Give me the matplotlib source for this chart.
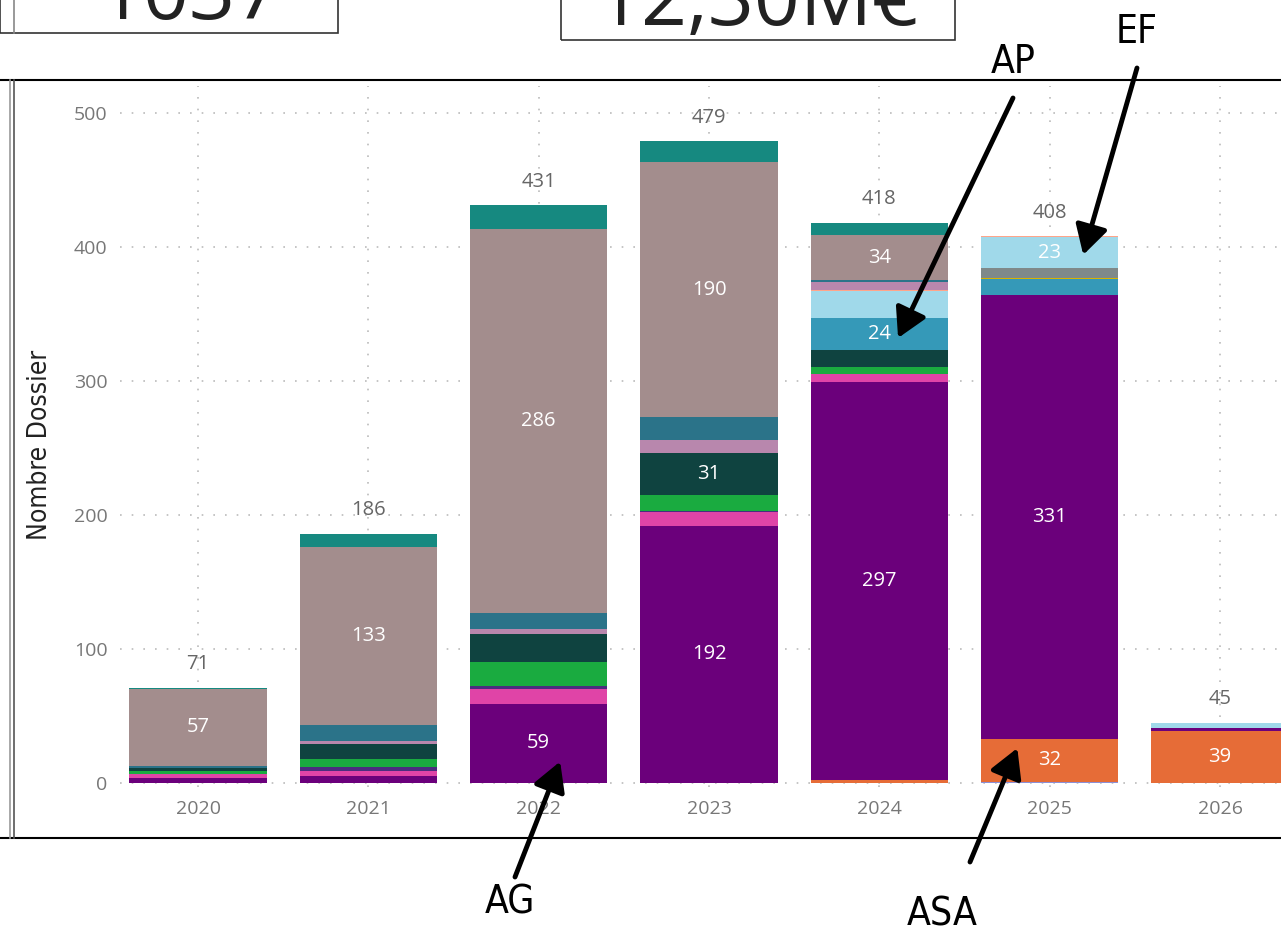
import matplotlib
matplotlib.use("Agg")
import matplotlib.pyplot as plt
import numpy as np
from matplotlib.lines import Line2D
from matplotlib.patches import Rectangle

years = ["2020", "2021", "2022", "2023", "2024", "2025", "2026"]

# stacked series, bottom to top
series_names = ["lavande", "ASA", "AG", "rose", "violet", "vert", "vert fonce", "AP",
                "jaune", "gris", "EF", "saumon", "mauve", "bleu canard", "taupe", "turquoise"]
series_colors = ["#8C8FD6", "#E66C37", "#6B007B", "#E044A7", "#4B2D7F", "#1AAB40", "#0F4340", "#3599B8",
                 "#D9B300", "#7F898A", "#A0D9EA", "#FFA58A", "#B887AD", "#2B7389", "#A38D8D", "#168980"]
lavande     = [0, 0, 0, 0, 0, 1, 0]
asa         = [0, 0, 0, 0, 2, 32, 39]
ag          = [4, 5, 59, 192, 297, 331, 2]
rose        = [3, 4, 11, 10, 6, 0, 0]
violet      = [0, 3, 2, 1, 0, 0, 0]
vert        = [2, 6, 18, 12, 5, 0, 0]
vert_fonce  = [2, 11, 21, 31, 13, 0, 0]
ap          = [0, 0, 0, 0, 24, 12, 0]
jaune       = [0, 0, 0, 0, 0, 1, 0]
gris        = [0, 0, 0, 0, 0, 7, 0]
ef          = [0, 0, 0, 0, 20, 23, 4]
saumon      = [0, 0, 0, 0, 1, 1, 0]
mauve       = [0, 2, 4, 10, 6, 0, 0]
bleu_canard = [2, 12, 12, 17, 1, 0, 0]
taupe       = [57, 133, 286, 190, 34, 0, 0]
turquoise   = [1, 10, 18, 16, 9, 0, 0]
series = [lavande, asa, ag, rose, violet, vert, vert_fonce, ap, jaune, gris, ef,
          saumon, mauve, bleu_canard, taupe, turquoise]

kpi_texts = ["1037", "12,30M€"]

W, H = 1281, 933
fig = plt.figure(figsize=(W / 100, H / 100), dpi=100)

def fx(px):
    return px / W

def fy(py):
    return 1 - py / H

ax = fig.add_axes([fx(120), fy(787), 1 - fx(120), fy(86) - fy(787)])
x = np.arange(len(years))
bottom = np.zeros(len(years))
for vals, col in zip(series, series_colors):
    vals = np.array(vals, dtype=float)
    ax.bar(x, vals, 0.805, bottom=bottom, color=col, zorder=2)
    for i, v in enumerate(vals):
        if v >= 23:
            ax.text(x[i], bottom[i] + v / 2, str(int(v)), ha="center", va="center",
                    color="white", fontsize=14.5, family="Open Sans", zorder=3)
    bottom += vals

for i, tot in enumerate(bottom):
    ax.text(x[i], tot + 10, str(int(tot)), ha="center", va="bottom", color="#666666",
            fontsize=14.5, family="Open Sans", zorder=3)

ax.set_xlim(-0.458, 6.358)
ax.set_ylim(-3, 520)
ax.set_yticks([0, 100, 200, 300, 400, 500])
ax.set_xticks(x)
ax.set_xticklabels(years)
ax.tick_params(length=0, labelsize=14, labelcolor="#777777", pad=9)
for lab in ax.get_xticklabels() + ax.get_yticklabels():
    lab.set_family("Open Sans")
ax.grid(True, color="#BBBBBB", linestyle=(0, (1, 6)), linewidth=1.2, zorder=0)
for s in ax.spines.values():
    s.set_visible(False)

fig.text(fx(40), fy(445), "Nombre Dossier", rotation=90, ha="center", va="center",
         fontsize=19, color="#222222", family="DejaVu Sans", fontstretch="condensed")

# dashboard frame
fig.add_artist(Line2D([0, 1], [fy(80), fy(80)], color="black", lw=1.5))
fig.add_artist(Line2D([0, 1], [fy(838), fy(838)], color="black", lw=1.5))
fig.add_artist(Line2D([fx(10), fx(10)], [fy(80), fy(838)], color="#999999", lw=1.2))
fig.add_artist(Line2D([fx(14), fx(14)], [fy(80), fy(838)], color="#555555", lw=1.2))

# KPI cards cut at the top
fig.add_artist(Rectangle((fx(0), fy(33)), fx(338), fy(-10) - fy(33), fill=False,
                         edgecolor="#333333", lw=1.2, transform=fig.transFigure))
fig.add_artist(Line2D([fx(14), fx(14)], [fy(0), fy(33)], color="#888888", lw=1.2))
fig.add_artist(Rectangle((fx(561), fy(40)), fx(955 - 561), fy(-10) - fy(40), fill=False,
                         edgecolor="#333333", lw=1.2, transform=fig.transFigure))
fig.text(fx(190), fy(19), kpi_texts[0], ha="center", va="baseline", fontsize=58,
         color="#222222", family="Open Sans")
fig.text(fx(757), fy(25), kpi_texts[1], ha="center", va="baseline", fontsize=58,
         color="#222222", family="Open Sans")

# annotations
arrow = dict(arrowstyle="-|>,head_length=0.8,head_width=0.45", color="black", lw=3.5,
             shrinkA=0, shrinkB=0, mutation_scale=22)
notes = [("AP", (4.11, 332), (1013, 62), (1013, 98)),
         ("EF", (5.197, 394), (1137, 32), (1137, 68)),
         ("AG", (2.126, 16), (510, 903), (515, 877)),
         ("ASA", (4.81, 26), (942, 915), (970, 862))]
for label, tip, tpos, tail in notes:
    ax.annotate("", xy=tip, xycoords="data", xytext=(fx(tail[0]), fy(tail[1])),
                textcoords="figure fraction", arrowprops=arrow, annotation_clip=False)
    fig.text(fx(tpos[0]), fy(tpos[1]), label, ha="center", va="center", fontsize=28,
             color="black", family="DejaVu Sans", fontstretch="condensed")

fig.savefig("out.png", dpi=100)
